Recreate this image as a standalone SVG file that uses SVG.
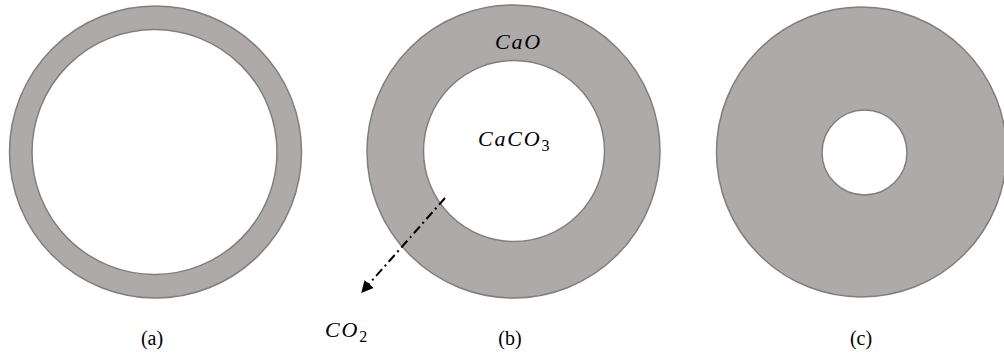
<svg xmlns="http://www.w3.org/2000/svg" width="1004" height="358" viewBox="0 0 1004 358">
  <style>
    .shell { fill: #aeaaaa; stroke: #7f7f7f; stroke-width: 1.5; }
    .core { fill: #ffffff; stroke: #7f7f7f; stroke-width: 1.5; }
    .cap { font-family: "Liberation Serif", serif; font-size: 20px; fill: #000; text-anchor: middle; }
    .math { font-family: "Liberation Serif", serif; font-style: italic; font-size: 22px; fill: #000; letter-spacing: 1.8px; }
    .sub { font-size: 16px; font-style: normal; }
  </style>
  <defs>
    <marker id="arrow" viewBox="0 0 10 10" refX="9" refY="5" markerWidth="6" markerHeight="6" orient="auto" markerUnits="strokeWidth">
      <path d="M0,0 L10,5 L0,10 z" fill="#000"/>
    </marker>
  </defs>
  <g id="particle-a">
    <circle class="shell" cx="155.5" cy="152" r="146"/>
    <circle class="core" cx="154.5" cy="152" r="122.5"/>
    <text class="cap" x="152" y="345">(a)</text>
  </g>
  <g id="particle-b">
    <circle class="shell" cx="513.5" cy="151.5" r="146.5"/>
    <circle class="core" cx="514" cy="151" r="90.5"/>
    <text class="math" x="495" y="49">CaO</text>
    <text class="math" x="478" y="146">CaCO<tspan class="sub" dy="5">3</tspan></text>
    <text class="cap" x="510" y="345">(b)</text>
  </g>
  <g id="particle-c">
    <circle class="shell" cx="861.5" cy="152" r="145"/>
    <circle class="core" cx="864.5" cy="152.5" r="42.5"/>
    <text class="cap" x="861" y="345">(c)</text>
  </g>
  <g id="connectors">
    <line x1="445" y1="198" x2="362" y2="292" stroke="#000" stroke-width="2" stroke-dasharray="9,4,2,4" marker-end="url(#arrow)"/>
  </g>
  <g id="co2-label">
    <text class="math" x="325" y="337">CO<tspan class="sub" dy="5">2</tspan></text>
  </g>
</svg>
